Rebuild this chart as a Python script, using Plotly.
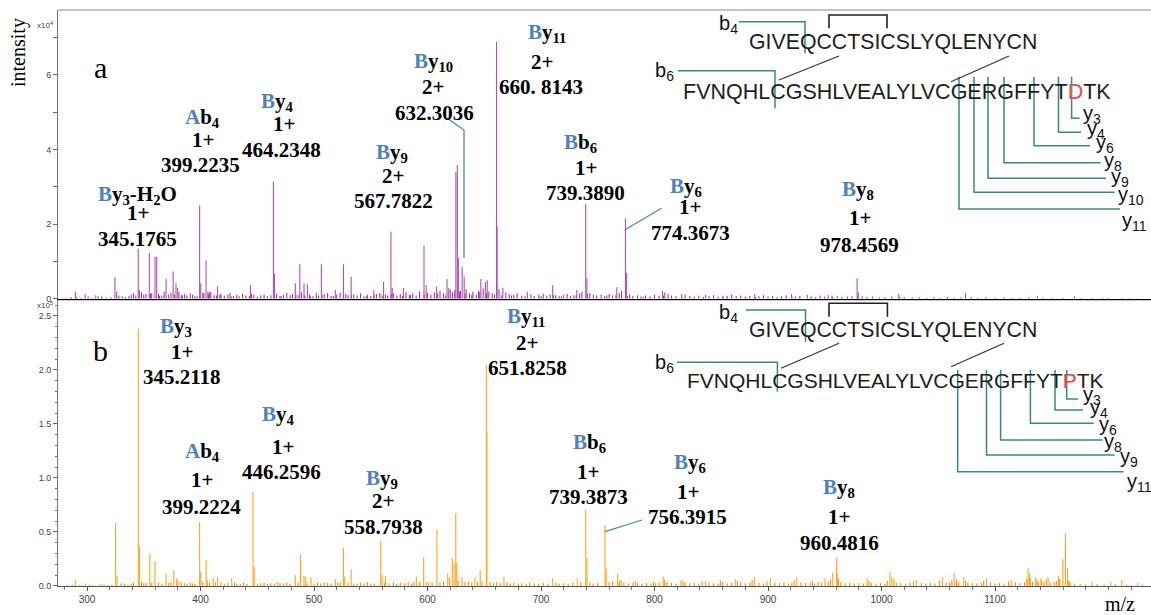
import plotly.graph_objects as go

# ---------------- data ----------------
# panel a (top) – main peaks
top_mz = [289.8, 298.4, 307.7, 309.8, 312.9, 324.6, 326.1, 345.18, 346.2, 354.9, 359.9, 361.4,
          369.7, 375.9, 378.4, 379.9, 399.22, 400.2, 404.9, 406.5, 408.0, 415.0, 444.0, 464.23,
          465.2, 483.5, 487.5, 491.2, 494.2, 506.5, 518.8, 525.9, 532.7, 552.7, 561.3, 567.78,
          568.9, 578.8, 596.9, 598.8, 608.0, 617.2, 618.7, 625.0, 626.3, 627.2, 630.5, 632.3,
          647.0, 651.0, 652.6, 660.81, 661.31, 666.4, 687.9, 710.3, 720.0, 731.5, 739.39, 740.4,
          766.8, 774.37, 775.4, 807.0, 809.0, 823.8, 844.9, 860.3, 888.2, 920.7, 934.6, 956.3,
          978.46, 979.5, 1015.1, 1074.0, 1137.4, 1170.0, 1194.7, 1219.0]
top_int = [2000, 1300, 1000, 800, 600, 5800, 1900, 13400, 2400, 12300, 11300, 11300,
           5400, 7300, 4200, 2900, 25000, 4200, 10300, 2000, 1900, 3300, 3700, 31400,
           6700, 4200, 9300, 4200, 3900, 9300, 2400, 9300, 6000, 2400, 4600, 18000,
           2900, 2900, 14200, 3700, 3300, 5300, 2900, 34000, 35900, 11000, 8600, 6000,
           5300, 4500, 5000, 68900, 19400, 3000, 1900, 3700, 1100, 2400, 25500, 5500,
           3100, 21500, 7000, 2200, 1800, 1300, 1100, 900, 1300, 1300, 1100, 900,
           5500, 1800, 1300, 1600, 700, 600, 300, 250]
# panel a – low-level peaks
top_small_mz = [282, 286, 291, 295, 301, 304, 313, 317, 321, 328, 331, 334, 337, 339, 341, 348, 350, 352,
                357, 363, 366, 368, 372, 374, 381, 383, 386, 388, 391, 393, 395, 402, 407, 409, 412, 418,
                421, 424, 426, 429, 432, 434, 437, 440, 447, 450, 453, 456, 459, 467, 470, 473, 476, 479,
                481, 486, 489, 496, 499, 502, 504, 509, 512, 515, 520, 523, 528, 530, 535, 538, 541, 544,
                547, 550, 555, 558, 563, 565, 570, 573, 576, 581, 584, 587, 590, 593, 600, 603, 606, 611,
                614, 620, 622, 629, 634, 637, 640, 643, 645, 649, 654, 657, 663, 669, 672, 676, 679, 683,
                691, 694, 698, 702, 705, 708, 713, 716, 723, 726, 729, 734, 736, 743, 746, 749, 753, 756,
                760, 763, 769, 771, 778, 781, 785, 788, 792, 796, 800, 804, 812, 815, 819, 827, 831, 835,
                839, 848, 852, 856, 864, 868, 872, 876, 880, 884, 892, 896, 900, 904, 908, 912, 916, 924,
                928, 938, 942, 946, 950, 953, 961, 965, 970, 974, 983, 987, 992, 998, 1003, 1009, 1020,
                1027, 1033, 1040, 1046, 1052, 1058, 1064, 1070, 1079, 1085, 1092, 1100, 1108, 1115, 1122,
                1130, 1142, 1150, 1160, 1176, 1185, 1200, 1212, 1225,
                343, 355.9, 364, 377, 384, 397, 403, 414, 417, 427, 443, 445, 462, 471, 484, 492, 497, 507,
                517, 526, 533, 546, 553, 560, 568, 578, 585, 597, 609, 616, 624, 628, 633, 639, 646, 652,
                659, 665, 674, 686, 700, 711, 718, 731, 741, 758, 766, 776, 790, 808, 824, 843, 860, 889,
                921, 957, 979, 1016, 1074]
top_small_int = [300, 500, 400, 300, 600, 250, 350, 300, 450, 900, 700, 500, 800, 1200, 1500, 1800, 1100, 1300,
                 1600, 1400, 900, 2000, 1200, 1600, 1800, 1000, 1300, 900, 1500, 1100, 700, 1700, 1300, 1800, 1000, 1400,
                 900, 1200, 1600, 800, 1100, 700, 1300, 900, 1100, 600, 900, 1200, 700, 1400, 800, 1100, 1600, 900,
                 1300, 1000, 1800, 1200, 700, 1500, 900, 1300, 1600, 800, 1200, 1700, 1400, 1000, 1200, 900, 1500, 700,
                 1100, 800, 1300, 1600, 1200, 900, 1500, 1000, 1300, 1800, 1100, 1500, 900, 2000, 1600, 1200, 1800, 2200,
                 1500, 2500, 1800, 2200, 2600, 1500, 1900, 1200, 2200, 2800, 2000, 1500, 2600, 1700, 1300, 1100, 1500, 900,
                 1300, 800, 1100, 1400, 900, 1200, 1000, 700, 1300, 800, 1000, 1500, 1900, 1600, 1100, 900, 1200, 800,
                 1400, 900, 1500, 2200, 1200, 800, 1000, 600, 900, 700, 1100, 800, 1300, 900, 700, 1200, 800, 600,
                 900, 700, 1000, 600, 800, 1200, 700, 900, 600, 800, 700, 1000, 600, 800, 500, 700, 900, 600,
                 800, 700, 500, 900, 600, 1000, 700, 500, 600, 800, 700, 500, 600, 400, 500, 600, 500,
                 400, 500, 300, 400, 300, 500, 300, 400, 500, 300, 400, 300, 400, 300, 300,
                 400, 300, 250, 300, 250, 200, 200, 200, 150,
                 900, 1400, 800, 1200, 1000, 700, 1500, 900, 1100, 600, 800, 1300, 1000, 700, 1200, 900, 600, 1100,
                 800, 1400, 1000, 700, 1100, 900, 1300, 800, 1000, 1200, 1500, 900, 2400, 2000, 1400, 1100, 1800, 1500,
                 1200, 1000, 900, 700, 800, 1000, 700, 900, 1300, 900, 1000, 700, 600, 900, 600, 500, 500, 500,
                 600, 500, 700, 500, 500]

# panel b (bottom) – main peaks
bot_mz = [289.8, 298.4, 310.7, 312.9, 325.2, 326.5, 345.21, 346.2, 355.3, 359.9, 369.7, 376.5, 379.0, 380.0,
          399.22, 400.2, 404.9, 406.0, 411.2, 415.0, 427.5, 446.26, 447.3, 467.5, 483.5, 488.1, 491.2, 492.7,
          497.3, 518.8, 525.9, 527.0, 532.7, 558.79, 560.0, 563.0, 590.2, 596.6, 598.8, 608.3, 617.8, 619.3,
          621.8, 623.4, 624.9, 625.8, 630.4, 641.8, 646.4, 651.83, 652.33, 667.3, 710.3, 731.9, 739.39, 740.5,
          756.39, 757.4, 767.5, 770.6, 807.7, 823.2, 844.9, 871.2, 888.2, 902.1, 925.4, 950.1, 957.0, 960.48,
          961.0, 987.3, 1007.4, 1009.0, 1030.6, 1053.8, 1064.0, 1072.4, 1092.5, 1114.2, 1129.1, 1130.3, 1135.9,
          1140.5, 1146.7, 1156.0, 1159.8, 1162.0, 1163.8, 1185.4, 1202.0, 1211.7, 1225.7]
bot_int = [5500, 2500, 1500, 1500, 58000, 9500, 238500, 36800, 30000, 22800, 11100, 14800, 7100, 5500,
           59500, 13000, 24000, 5500, 7100, 8000, 7100, 87300, 17900, 4000, 10200, 29600, 9300, 8600,
           8000, 6200, 35500, 8600, 15400, 41700, 10200, 9300, 8600, 26500, 4000, 51800, 11700, 8000,
           25600, 21600, 67300, 21000, 8600, 8000, 14800, 204600, 142900, 8600, 7100, 7100, 70400, 25600,
           56500, 16400, 11700, 5500, 8600, 5500, 4600, 6200, 8000, 7100, 8600, 7100, 12300, 26500,
           11700, 7100, 13300, 8600, 5500, 8000, 12300, 8000, 7100, 5500, 16400, 11700, 8000,
           7100, 8000, 9300, 24700, 48800, 16400, 4000, 4000, 5500, 3000]
# panel b – low-level peaks
bot_small_mz = [282, 287, 293, 296, 302, 305, 315, 318, 322, 330, 333, 336, 339, 341, 348, 350, 352, 357,
                363, 366, 372, 374, 383, 386, 388, 391, 393, 395, 402, 408, 413, 418, 421, 424, 430, 432,
                435, 438, 441, 450, 453, 456, 459, 462, 465, 470, 473, 476, 479, 486, 494, 500, 503, 506,
                509, 512, 515, 521, 523, 530, 535, 538, 541, 544, 547, 550, 553, 562, 566, 570, 573, 576,
                580, 583, 586, 588, 593, 601, 604, 611, 614, 627, 633, 636, 639, 644, 648, 655, 658, 661,
                664, 670, 673, 676, 680, 683, 687, 690, 694, 698, 702, 706, 713, 716, 720, 724, 728, 735,
                743, 746, 750, 760, 763, 773, 777, 781, 785, 789, 793, 797, 801, 804, 811, 815, 819, 827,
                831, 835, 839, 848, 852, 856, 860, 864, 868, 876, 880, 884, 892, 896, 906, 910, 914, 918,
                921, 929, 933, 937, 941, 944, 947, 953, 964, 968, 972, 976, 980, 984, 991, 995, 999, 1003,
                1013, 1017, 1021, 1025, 1035, 1039, 1043, 1047, 1057, 1060, 1068, 1076, 1080, 1084, 1088,
                1096, 1100, 1104, 1108, 1118, 1122, 1126, 1133, 1138, 1143, 1149, 1152, 1154, 1166, 1170,
                1175, 1180, 1190, 1196, 1206, 1216, 1220, 1230,
                769, 783, 799, 809, 825, 842, 858, 873, 886, 899, 923, 939, 955, 962, 989, 1005, 1011, 1028,
                1051, 1062, 1066, 1074, 1090, 1112, 1128, 1131, 1137, 1141, 1145, 1157, 1165]
bot_small_int = [800, 1200, 900, 600, 1100, 800, 1500, 1000, 1200, 2500, 1800, 1400, 2200, 3000, 4000, 2600, 3000, 3500,
                 3200, 2000, 2800, 3600, 3400, 2500, 2000, 3200, 2400, 1800, 3800, 3000, 3500, 3000, 2000, 2800, 3400, 2400,
                 1800, 3000, 2000, 1800, 2400, 3000, 2000, 2600, 1800, 3000, 2200, 3200, 2400, 3000, 2600, 2200, 3000, 2400,
                 3400, 2800, 2000, 2800, 3400, 3000, 2400, 2000, 3000, 2200, 3600, 2600, 2000, 3000, 2400, 3400, 2200, 3000,
                 2600, 3400, 2000, 4200, 3600, 3000, 3800, 3400, 4400, 4600, 3600, 4200, 3000, 3800, 4200, 3600, 3000, 3800,
                 3200, 3400, 2400, 3000, 2200, 2600, 2000, 3000, 2400, 2000, 2800, 2400, 3000, 2200, 2600, 2000, 3200, 3600,
                 3000, 2400, 2800, 3800, 4200, 3000, 2400, 3200, 2600, 2000, 2800, 2200, 2600, 3200, 3600, 3000, 2600, 3400,
                 2400, 2800, 2200, 3000, 2600, 2000, 3400, 2400, 3000, 3400, 2600, 3000, 2800, 2400, 3200, 2600, 3000, 2200,
                 2800, 3200, 2600, 3000, 2400, 3600, 3000, 4200, 3400, 2600, 3000, 2400, 2600, 2000, 3000, 2400, 2800, 2200,
                 3000, 2600, 2200, 3200, 2800, 2400, 3000, 2400, 2800, 3400, 3600, 3000, 2600, 2400, 2800,
                 3000, 2400, 2800, 2200, 3200, 2800, 3400, 4000, 3600, 3800, 3000, 3400, 4600, 3400, 2200,
                 1800, 1500, 1800, 1400, 1600, 1200, 1000, 800,
                 5200, 4400, 4000, 6000, 4800, 4200, 5000, 4600, 5600, 4400, 5200, 4800, 6200, 7000, 4600, 5000, 6400, 4200,
                 4800, 5400, 6200, 4600, 5000, 4400, 6800, 7600, 5600, 5200, 6000, 6400, 5000]

x_ticks = [300, 400, 500, 600, 700, 800, 900, 1000, 1100]
top_tick_vals = [0, 20000, 40000, 60000]
top_tick_text = ["0", "2", "4", "6"]
bot_tick_vals = [0, 50000, 100000, 150000, 200000, 250000]
bot_tick_text = ["0.0", "0.5", "1.0", "1.5", "2.0", "2.5"]

# ---------------- layout helpers ----------------
W, H = 1151, 615
ML, MR, MT, MB = 58, 0, 10, 29
PW, PH = W - ML - MR, H - MT - MB


def px(x):
    return (x - ML) / PW


def py(y):
    return (H - MB - y) / PH


def sticks(mz, inten):
    xs, ys = [], []
    for m, i in zip(mz, inten):
        xs += [m, m, None]
        ys += [0, i, None]
    return xs, ys


TOP_C = "#B150B1"
TOP_C2 = "#A03A9E"
BOT_C = "#FFA41F"
BOT_C2 = "#F39200"
BLUE = "#4F81BD"
TEAL = "#3A8787"

fig = go.Figure()
for (mzs, ints, col, xa, ya) in [
    (top_small_mz, top_small_int, TOP_C2, "x", "y"),
    (top_mz, top_int, TOP_C, "x", "y"),
    (bot_small_mz, bot_small_int, BOT_C2, "x2", "y2"),
    (bot_mz, bot_int, BOT_C, "x2", "y2"),
]:
    xs, ys = sticks(mzs, ints)
    fig.add_trace(go.Scatter(x=xs, y=ys, mode="lines", line=dict(color=col, width=1.1),
                             xaxis=xa, yaxis=ya, hoverinfo="skip", showlegend=False))

XR = [274.45, 1237.4]
tickfont = dict(family="Liberation Sans, Arial", size=10, color="#444")

fig.update_layout(
    width=W, height=H,
    margin=dict(l=ML, r=MR, t=MT, b=MB),
    paper_bgcolor="white", plot_bgcolor="white",
    showlegend=False,
    xaxis=dict(domain=[0, 1], anchor="y", range=XR, showticklabels=False, ticks="",
               showline=True, linecolor="black", linewidth=2, showgrid=False, zeroline=False),
    yaxis=dict(domain=[0.4985, 1], anchor="x", range=[0, 77400], tickvals=top_tick_vals,
               ticktext=top_tick_text, ticks="outside", ticklen=4, tickcolor="#666",
               minor=dict(dtick=10000, ticks="outside", ticklen=4, tickcolor="#666", showgrid=False),
               showline=True, linecolor="#777", linewidth=1, showgrid=False, zeroline=False,
               tickfont=dict(family="Liberation Sans, Arial", size=9, color="#444")),
    xaxis2=dict(domain=[0, 1], anchor="y2", range=XR, tickvals=x_ticks, ticks="outside",
                ticklen=4, tickcolor="#555",
                minor=dict(dtick=20, ticks="outside", ticklen=3, tickcolor="#777", showgrid=False),
                showline=True, linecolor="#555", linewidth=1, showgrid=False, zeroline=False,
                tickfont=tickfont),
    yaxis2=dict(domain=[0, 0.4965], anchor="x2", range=[0, 264800], tickvals=bot_tick_vals,
                ticktext=bot_tick_text, ticks="outside", ticklen=4, tickcolor="#666",
                minor=dict(dtick=10000, ticks="outside", ticklen=2, tickcolor="#777", showgrid=False),
                showline=True, linecolor="#777", linewidth=1, showgrid=False, zeroline=False,
                tickfont=dict(family="Liberation Sans, Arial", size=9, color="#444")),
)

shapes = []


def path(points, color, width=1.5):
    d = "M " + " L ".join(f"{px(x):.5f},{py(y):.5f}" for x, y in points)
    shapes.append(dict(type="path", path=d, xref="paper", yref="paper",
                       line=dict(color=color, width=width)))


# frame lines
path([(58, 10), (1151, 10)], "#888", 1)
path([(58, 300.5), (1151, 300.5)], "#ccc", 1)

# leader lines
path([(447, 118), (464, 130), (464, 258)], BLUE, 1.3)
path([(661.5, 208.3), (624.6, 230)], BLUE, 1.3)
path([(642, 520), (605, 531.7)], BLUE, 1.3)

# peptide diagram – top
path([(739, 21.7), (805, 21.7), (805, 53.3)], TEAL)
path([(678, 70.7), (775, 70.7), (775, 108.3)], TEAL)
for (vx, hy, hx) in [(1071.6, 118.3, 1079.6), (1058.5, 132.3, 1081), (1034, 145.7, 1090),
                     (1004, 162.7, 1100.7), (988, 178.3, 1106), (974, 192.3, 1114.7), (959, 209, 1120)]:
    path([(vx, 76.7), (vx, hy), (hx, hy)], TEAL)
path([(829, 28.3), (829, 15), (887, 15), (887, 28.3)], "#222", 1.6)
path([(839, 56), (779, 80)], "#333", 1.2)
path([(1009, 56), (951, 81.7)], "#333", 1.2)

# peptide diagram – bottom
path([(746, 310), (805.5, 310), (805.5, 341.7)], TEAL)
path([(677, 362.3), (777.4, 362.3), (777.4, 391.7)], TEAL)
for (vx, hy, hx) in [(1066.7, 399, 1078), (1055, 410, 1083), (1030.4, 423.3, 1093.7),
                     (1000.6, 440, 1102.5), (986.5, 455, 1114.7), (957.7, 471.7, 1123.5)]:
    path([(vx, 370), (vx, hy), (hx, hy)], TEAL)
path([(829, 316.7), (829, 303.3), (887.4, 303.3), (887.4, 316.7)], "#222", 1.6)
path([(839, 343.3), (781, 368.3)], "#333", 1.2)
path([(1004, 343.3), (951, 366.7)], "#333", 1.2)

fig.update_layout(shapes=shapes)

anns = []


def ann(text, x, y, size=21, family="Liberation Serif, Times New Roman", color="black",
        xanchor="center", angle=0):
    anns.append(dict(text=text, x=px(x), y=py(y), xref="paper", yref="paper", showarrow=False,
                     xanchor=xanchor, yanchor="middle", textangle=angle,
                     font=dict(family=family, size=size, color=color)))


def ion(letter, sub, x, y, extra=""):
    ann(f"<b><span style='color:{BLUE}'>{letter[0]}</span>{letter[1:]}<sub>{sub}</sub>{extra}</b>", x, y)


def bold(t, x, y):
    ann(f"<b>{t}</b>", x, y)


# panel a labels
ann("a", 100, 68, size=30)
ion("By", "3", 137, 195, extra="-H<sub>2</sub>O")
bold("1+", 138, 213); bold("345.1765", 137, 239)
ion("Ab", "4", 202, 118); bold("1+", 203, 140); bold("399.2235", 200, 165)
ion("By", "4", 277, 102); bold("1+", 284, 124); bold("464.2348", 281, 150)
ion("By", "9", 392, 153); bold("2+", 393, 176); bold("567.7822", 393, 201)
ion("By", "10", 433, 62); bold("2+", 433, 87); bold("632.3036", 434, 113)
ion("By", "11", 547, 33); bold("2+", 542, 62); bold("660. 8143", 541, 87)
ion("Bb", "6", 580, 143); bold("1+", 586, 168); bold("739.3890", 585, 193)
ion("By", "6", 686, 187); bold("1+", 690, 207); bold("774.3673", 690, 233)
ion("By", "8", 858, 190); bold("1+", 860, 218); bold("978.4569", 859, 245)

# panel b labels
ann("b", 100, 350, size=30)
ion("By", "3", 176, 327); bold("1+", 182, 352); bold("345.2118", 182, 377)
ion("Ab", "4", 202, 452); bold("1+", 202, 480); bold("399.2224", 201, 507)
ion("By", "4", 278, 415); bold("1+", 283, 447); bold("446.2596", 281, 472)
ion("By", "9", 382, 479); bold("2+", 383, 501); bold("558.7938", 383, 527)
ion("By", "11", 526, 317); bold("2+", 527, 343); bold("651.8258", 527, 368)
ion("Bb", "6", 589, 443); bold("1+", 588, 472); bold("739.3873", 588, 497)
ion("By", "6", 690, 463); bold("1+", 688, 492); bold("756.3915", 687, 517)
ion("By", "8", 839, 488); bold("1+", 839, 517); bold("960.4816", 839, 543)

# axis texts
ann("intensity", 18, 53, size=20, angle=-90)
ann("m/z", 1120, 604, size=20)
ann("x10<sup>4</sup>", 45, 25, size=8, family="Liberation Sans, Arial", color="#444")
ann("x10<sup>5</sup>", 45, 305, size=8, family="Liberation Sans, Arial", color="#444")

# peptide sequences
SANS = "Liberation Sans, Arial"
PEP = "#1e1e1e"
ann("GIVEQCCTSICSLYQLENYCN", 892.5, 41.7, size=21.3, family=SANS, color=PEP)
ann("FVNQHLCGSHLVEALYLVCGERGFFYT<span style='color:#E05050'>D</span>TK", 897, 91.7,
    size=21.5, family=SANS, color=PEP)
ann("GIVEQCCTSICSLYQLENYCN", 892.5, 330, size=21.3, family=SANS, color=PEP)
ann("FVNQHLCGSHLVEALYLVCGERGFFYT<span style='color:#E04040'>P</span>TK", 895, 380,
    size=21.0, family=SANS, color=PEP)

for (lab, x, y) in [("b<sub>4</sub>", 728, 25), ("b<sub>6</sub>", 664, 72),
                    ("b<sub>4</sub>", 728, 313), ("b<sub>6</sub>", 664, 363)]:
    ann(lab, x, y, size=20, family=SANS, color="#111")

for (s, x, y) in [("3", 1081, 115), ("4", 1085, 129), ("6", 1094, 144), ("8", 1102, 161),
                  ("9", 1109, 178), ("10", 1116, 196), ("11", 1120, 221)]:
    ann(f"y<sub>{s}</sub>", x, y, size=20, family=SANS, color="#111", xanchor="left")
for (s, x, y) in [("3", 1081, 395), ("4", 1088, 408), ("6", 1097, 425), ("8", 1102, 442),
                  ("9", 1118, 457), ("11", 1125, 482)]:
    ann(f"y<sub>{s}</sub>", x, y, size=20, family=SANS, color="#111", xanchor="left")

fig.update_layout(annotations=anns)
fig.write_html("out.html")
